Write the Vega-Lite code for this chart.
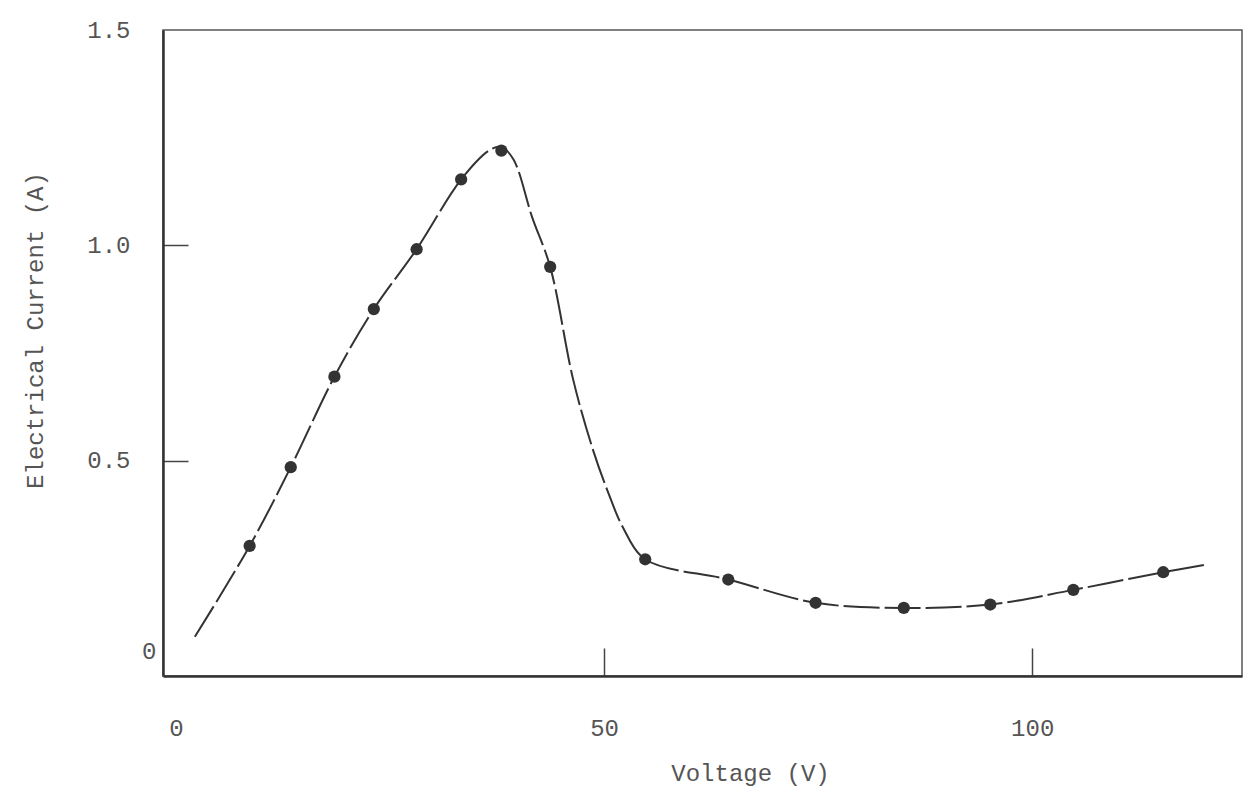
{
  "$schema": "https://vega.github.io/schema/vega-lite/v6.json",
  "width": 1079,
  "height": 646,
  "autosize": "none",
  "padding": {"left": 163, "top": 30, "right": 11, "bottom": 118},
  "background": "white",
  "config": {
    "view": {"stroke": "#555", "strokeWidth": 1.5},
    "font": "Liberation Mono"
  },
  "datasets": {
    "measured": [
      {"voltage": 8.6, "current": 0.302},
      {"voltage": 13.4, "current": 0.485},
      {"voltage": 18.5, "current": 0.695},
      {"voltage": 23.1, "current": 0.852},
      {"voltage": 28.1, "current": 0.991},
      {"voltage": 33.3, "current": 1.153},
      {"voltage": 38.0, "current": 1.22},
      {"voltage": 43.7, "current": 0.95},
      {"voltage": 54.8, "current": 0.271},
      {"voltage": 64.5, "current": 0.224},
      {"voltage": 74.7, "current": 0.17},
      {"voltage": 85.0, "current": 0.158},
      {"voltage": 95.1, "current": 0.166},
      {"voltage": 104.8, "current": 0.2},
      {"voltage": 115.3, "current": 0.241}
    ],
    "curve": [
      {"voltage": 2.2, "current": 0.091},
      {"voltage": 8.6, "current": 0.302},
      {"voltage": 13.4, "current": 0.485},
      {"voltage": 18.5, "current": 0.695},
      {"voltage": 23.1, "current": 0.852},
      {"voltage": 28.1, "current": 0.991},
      {"voltage": 33.3, "current": 1.153},
      {"voltage": 36.7, "current": 1.222},
      {"voltage": 38.0, "current": 1.228},
      {"voltage": 39.4, "current": 1.2},
      {"voltage": 41.6, "current": 1.065},
      {"voltage": 43.7, "current": 0.95},
      {"voltage": 46.4, "current": 0.687},
      {"voltage": 48.7, "current": 0.525},
      {"voltage": 50.4, "current": 0.43},
      {"voltage": 52.2, "current": 0.345},
      {"voltage": 54.8, "current": 0.271},
      {"voltage": 64.5, "current": 0.224},
      {"voltage": 74.7, "current": 0.17},
      {"voltage": 85.0, "current": 0.158},
      {"voltage": 95.1, "current": 0.166},
      {"voltage": 104.8, "current": 0.2},
      {"voltage": 115.3, "current": 0.241},
      {"voltage": 120.2, "current": 0.258}
    ]
  },
  "layer": [
    {
      "data": {"name": "curve"},
      "mark": {"type": "line", "interpolate": "catmull-rom", "color": "#333", "strokeWidth": 2, "strokeDash": [36, 5]},
      "encoding": {
        "x": {
          "field": "voltage",
          "type": "quantitative",
          "scale": {"domain": [-1.52, 124.5], "nice": false, "zero": false},
          "axis": {
            "title": "Voltage (V)",
            "values": [0, 50, 100],
            "format": "d",
            "grid": false,
            "domainColor": "#333",
            "domainWidth": 2.5,
            "tickSize": -28,
            "tickWidth": 1.5,
            "tickColor": {"condition": {"test": "datum.value == 0", "value": "transparent"}, "value": "#444"},
            "labelPadding": 68,
            "labelFont": "Liberation Mono",
            "labelFontSize": 24,
            "labelColor": "#555",
            "titleFont": "Liberation Mono",
            "titleFontSize": 24,
            "titleFontWeight": "normal",
            "titleColor": "#555",
            "titleX": 587,
            "titleY": 97,
            "titleAlign": "center",
            "titleBaseline": "middle"
          }
        },
        "y": {
          "field": "current",
          "type": "quantitative",
          "scale": {"domain": [0, 1.5], "nice": false, "zero": false},
          "axis": {
            "title": "Electrical Current (A)",
            "values": [0, 0.5, 1, 1.5],
            "labelExpr": "datum.value == 0 ? '0' : format(datum.value, '.1f')",
            "grid": false,
            "domainColor": "#333",
            "domainWidth": 2.5,
            "tickSize": -25,
            "tickWidth": 1.5,
            "tickColor": {"condition": {"test": "datum.value == 0 || datum.value == 1.5", "value": "transparent"}, "value": "#444"},
            "labelPadding": {"condition": {"test": "datum.value == 0", "value": 32}, "value": 58},
            "labelOffset": {"condition": {"test": "datum.value == 0", "value": -25}, "value": 0},
            "labelFont": "Liberation Mono",
            "labelFontSize": 24,
            "labelColor": "#555",
            "titleFont": "Liberation Mono",
            "titleFontSize": 24,
            "titleFontWeight": "normal",
            "titleColor": "#555",
            "titleAngle": 270,
            "titleX": -128,
            "titleY": 300,
            "titleAlign": "center",
            "titleBaseline": "middle"
          }
        }
      }
    },
    {
      "data": {"name": "measured"},
      "mark": {"type": "point", "filled": true, "shape": "circle", "size": 150, "color": "#333", "opacity": 1},
      "encoding": {
        "x": {"field": "voltage", "type": "quantitative"},
        "y": {"field": "current", "type": "quantitative"}
      }
    }
  ]
}
